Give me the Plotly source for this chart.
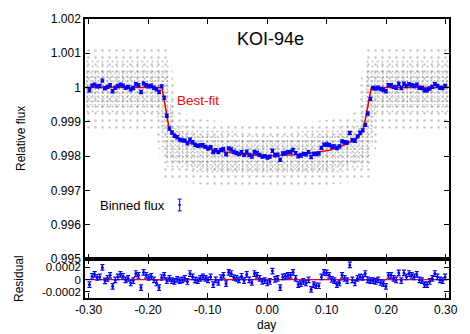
import plotly.graph_objects as go

# ---------------- data ----------------
# best-fit transit model
model_x = [-0.306, -0.1766, -0.1646, -0.149, -0.1225, -0.098, -0.07, -0.04, 0.0,
           0.04, 0.07, 0.105, 0.1316, 0.1534, 0.1616, 0.175, 0.3055]
model_flux = [1.0, 1.0, 0.99879, 0.99851, 0.99834, 0.99822, 0.99812, 0.99805, 0.99801,
              0.99803, 0.99808, 0.99817, 0.99834, 0.99855, 0.99876, 1.0, 1.0]

# binned points: first bin centre and spacing (days)
bin_x0 = -0.2985
bin_dx = 0.00433
# binned flux, deviation from 1 in units of 1e-4
binned_dev_1e4 = [
    -0.8, 0.55, 0.85, 0.35, 0.45, 2.0, -0.2, 0.2, 0.7, -1.1, -0.05, 0.45, 0.85, 0.55, -0.05,
    0.2, -0.55, -0.15, 1.0, 0.7, -1.3, 1.2, 0.7, 0.35, 0.55, -0.05, -0.55, -1.3, 0.35,
    -3.0, -8.22, -11.96, -13.11, -14.06, -14.51, -15.19, -15.44, -15.5, -16.26, -15.22,
    -15.99, -16.7, -17.02, -16.88, -16.85, -17.32, -17.78, -17.45, -18.87, -18.3, -18.87,
    -18.22, -18.0, -19.48, -17.76, -18.09, -18.83, -19.07, -19.4, -18.89, -19.67, -18.73,
    -19.7, -20.16, -18.78, -19.11, -19.64, -20.16, -20.03, -20.45, -20.18, -18.46, -19.78,
    -19.61, -21.07, -19.26, -19.09, -18.87, -18.81, -18.23, -19.14, -20.06, -19.82, -19.37,
    -19.49, -18.86, -20.28, -19.35, -19.4, -19.23, -17.61, -16.68, -16.61, -16.79, -17.22,
    -17.21, -17.64, -17.17, -15.71, -15.99, -16.08, -13.27, -15.4, -15.55, -14.26, -13.21,
    -12.51, -10.89, -7.57, -3.31,
    -0.15, -0.3, -0.05, -0.45, -0.65, -1.1, 0.7, 0.7, 0.2, -0.05, 1.1, -0.15, 1.1, 0.45,
    1.0, 0.7, 0.45, 0.85, -0.05, -0.15, -0.8, -0.8, -0.3, 0.2, 1.0, 0.45, -0.05, -0.15, 0.45,
]
# residuals, units of 1e-4
residual_1e4 = [
    -0.8, 0.55, 0.85, 0.35, 0.45, 2.0, -0.2, 0.2, 0.7, -1.1, -0.05, 0.45, 0.85, 0.55, -0.05,
    0.2, -0.55, -0.15, 1.0, 0.7, -1.3, 1.2, 0.7, 0.35, 0.55, -0.05, -0.55, -1.3, 0.35, 0.7,
    -0.15, 0.2, -0.15, -0.3, 0.05, -0.15, -0.05, 0.2, -0.3, 1.0, 0.45, -0.05, -0.15, 0.2, 0.45,
    0.2, -0.05, 0.45, -0.8, -0.05, -0.45, 0.35, 0.7, -0.65, 1.2, 1.0, 0.35, 0.2, -0.05, 0.55,
    -0.15, 0.85, -0.05, -0.45, 1.0, 0.7, 0.2, -0.3, -0.15, -0.55, -0.3, 1.4, 0.05, 0.2, -1.3,
    0.45, 0.55, 0.7, 0.7, 1.2, 0.2, -0.8, -0.65, -0.3, -0.55, -0.05, -1.6, -0.8, -1.0, -1.0,
    0.45, 1.2,
    1.1, 0.7, 0.05, -0.15, -0.8, -0.55, 0.7, 0.2, -0.15, 2.4, -0.05, -0.55, 0.2, 0.45, 0.35,
    1.0, -0.05, -0.15, -0.15, -0.3, -0.05, -0.45, -0.65, -1.1, 0.7, 0.7, 0.2, -0.05, 1.1,
    -0.15, 1.1, 0.45, 1.0, 0.7, 0.45, 0.85, -0.05, -0.15, -0.8, -0.8, -0.3, 0.2, 1.0, 0.45,
    -0.05, -0.15, 0.45,
]
error_1e4 = 0.45

# envelopes of the raw (unbinned) flux cloud: dense core, middle, sparse halo
core_up_x = [-0.306, -0.168, -0.158, -0.14, -0.1, -0.05, 0.0, 0.05, 0.1, 0.14, 0.158, 0.168, 0.3055]
core_up_y = [1.0005, 1.0005, 0.99885, 0.99872, 0.9986, 0.9985, 0.99847, 0.9985, 0.9986, 0.99872, 0.99885, 1.0005, 1.0005]
core_lo_x = [-0.306, -0.182, -0.17, -0.14, -0.1, -0.05, 0.0, 0.05, 0.1, 0.14, 0.17, 0.182, 0.3055]
core_lo_y = [0.99948, 0.99948, 0.9979, 0.99775, 0.9976, 0.99755, 0.99752, 0.99755, 0.9976, 0.99775, 0.9979, 0.99948, 0.99948]
mid_up_x = [-0.306, -0.166, -0.155, -0.1, 0.0, 0.1, 0.155, 0.166, 0.3055]
mid_up_y = [1.0008, 1.0008, 0.9990, 0.99878, 0.99865, 0.99878, 0.9990, 1.0008, 1.0008]
mid_lo_x = [-0.306, -0.185, -0.172, -0.1, 0.0, 0.1, 0.172, 0.185, 0.3055]
mid_lo_y = [0.9992, 0.9992, 0.9977, 0.99745, 0.9974, 0.99745, 0.9977, 0.9992, 0.9992]
halo_up_x = [-0.306, -0.164, -0.152, -0.1, 0.0, 0.1, 0.152, 0.164, 0.3055]
halo_up_y = [1.0012, 1.0012, 0.9993, 0.99905, 0.9989, 0.99905, 0.9993, 1.0012, 1.0012]
halo_lo_x = [-0.306, -0.188, -0.174, -0.1, 0.0, 0.1, 0.174, 0.188, 0.3055]
halo_lo_y = [0.9988, 0.9988, 0.9973, 0.99715, 0.9971, 0.99715, 0.9973, 0.9988, 0.9988]

x_tick_vals = [-0.3, -0.2, -0.1, 0.0, 0.1, 0.2, 0.3]
x_tick_text = ["-0.30", "-0.20", "-0.10", "0.00", "0.10", "0.20", "0.30"]
y_tick_vals = [0.995, 0.996, 0.997, 0.998, 0.999, 1.0, 1.001, 1.002]
y_tick_text = ["0.995", "0.996", "0.997", "0.998", "0.999", "1", "1.001", "1.002"]
r_tick_vals = [-0.0002, 0.0, 0.0002]
r_tick_text = ["-0.0002", "0", "0.0002"]

# ---------------- figure ----------------
FONT = "Liberation Sans, Arial, sans-serif"
BLUE = "#0000ff"
RED = "#ff0000"

binned_flux = [1 + v * 1e-4 for v in binned_dev_1e4]
residual = [v * 1e-4 for v in residual_1e4]

fig = go.Figure()

def cloud(xu, yu, xl, yl, size, sol, col):
    fig.add_trace(go.Scatter(
        x=xu + xl[::-1], y=yu + yl[::-1], fill="toself", mode="lines",
        line=dict(width=0), fillcolor="rgba(0,0,0,0)",
        fillpattern=dict(shape=".", size=size, solidity=sol, fgcolor=col,
                         bgcolor="rgba(0,0,0,0)"),
        hoverinfo="skip", showlegend=False, xaxis="x", yaxis="y"))

cloud(halo_up_x, halo_up_y, halo_lo_x, halo_lo_y, 7, 0.1, "rgba(60,60,60,0.6)")
cloud(mid_up_x, mid_up_y, mid_lo_x, mid_lo_y, 5, 0.12, "rgba(50,50,50,0.6)")
cloud(core_up_x, core_up_y, core_lo_x, core_lo_y, 4, 0.14, "rgba(30,30,30,0.6)")
cloud(core_up_x, core_up_y, core_lo_x, core_lo_y, 3, 0.12, "rgba(80,80,80,0.55)")

fig.add_trace(go.Scatter(x=model_x, y=model_flux, mode="lines",
                         line=dict(color=RED, width=1.6), showlegend=False,
                         xaxis="x", yaxis="y"))
fig.add_trace(go.Scatter(x0=bin_x0, dx=bin_dx, y=binned_flux, mode="markers",
                         marker=dict(color=BLUE, size=3.5),
                         error_y=dict(type="constant", value=error_1e4 * 1e-4,
                                      color=BLUE, thickness=1.3, width=2),
                         showlegend=False, xaxis="x", yaxis="y"))

fig.add_trace(go.Scatter(x=[model_x[0], model_x[-1]], y=[0, 0], mode="lines",
                         line=dict(color=RED, width=1.2), showlegend=False,
                         xaxis="x2", yaxis="y2"))
fig.add_trace(go.Scatter(x0=bin_x0, dx=bin_dx, y=residual, mode="markers",
                         marker=dict(color=BLUE, size=3),
                         error_y=dict(type="constant", value=error_1e4 * 1e-4,
                                      color=BLUE, thickness=1.2, width=2),
                         showlegend=False, xaxis="x2", yaxis="y2"))

W, H = 470, 334
L, R, T, B = 85, 12, 13, 36
split = (298 - 258) / (H - T - B)

axis_common = dict(showline=True, linecolor="black", linewidth=1.5, mirror="ticks",
                   ticks="inside", ticklen=5, tickwidth=1, tickcolor="black",
                   showgrid=False, zeroline=False,
                   tickfont=dict(family=FONT, size=12, color="black"))

fig.update_layout(
    width=W, height=H, margin=dict(l=L, r=R, t=T, b=B),
    paper_bgcolor="white", plot_bgcolor="white", showlegend=False,
    xaxis=dict(axis_common, domain=[0, 1], anchor="y", range=[-0.306, 0.3055],
               tickvals=x_tick_vals, showticklabels=False),
    yaxis=dict(axis_common, domain=[split, 1], anchor="x", range=[0.995, 1.002],
               tickvals=y_tick_vals, ticktext=y_tick_text),
    xaxis2=dict(axis_common, domain=[0, 1], anchor="y2", range=[-0.306, 0.3055],
                tickvals=x_tick_vals, ticktext=x_tick_text, matches="x"),
    yaxis2=dict(axis_common, domain=[0, split], anchor="x2", range=[-0.0003, 0.00034],
                tickvals=r_tick_vals, ticktext=r_tick_text,
                tickfont=dict(family=FONT, size=11.5, color="black")),
)

def px_x(px):
    return (px - L) / (W - L - R)

def px_y(py):
    return (H - B - py) / (H - T - B)

ann = [
    dict(text="KOI-94e", x=px_x(275), y=px_y(33), size=18, color="black"),
    dict(text="Best-fit", x=px_x(177), y=px_y(96), size=13.5, color=RED, xanchor="left"),
    dict(text="Binned flux", x=px_x(169), y=px_y(203), size=13, color="black", xanchor="right"),
    dict(text="Relative flux", x=px_x(20), y=px_y(135), size=12, color="black", textangle=-90),
    dict(text="Residual", x=px_x(18), y=px_y(278), size=12, color="black", textangle=-90),
    dict(text="day", x=px_x(271), y=px_y(326), size=12, color="black"),
]
for a in ann:
    fig.add_annotation(text=a["text"], x=a["x"], y=a["y"], xref="paper", yref="paper",
                       showarrow=False, xanchor=a.get("xanchor", "center"), yanchor="middle",
                       textangle=a.get("textangle", 0),
                       font=dict(family=FONT, size=a["size"], color=a["color"]))

# legend sample (error-bar glyph)
lx = px_x(182)
cap = 2 / (W - L - R)
y_top, y_bot, y_mid = px_y(197), px_y(209), px_y(203)
for (x0, y0, x1, y1) in [(lx, y_bot, lx, y_top), (lx - cap, y_top, lx + cap, y_top),
                         (lx - cap, y_bot, lx + cap, y_bot)]:
    fig.add_shape(type="line", xref="paper", yref="paper", x0=x0, y0=y0, x1=x1, y1=y1,
                  line=dict(color=BLUE, width=1))
fig.add_shape(type="circle", xref="paper", yref="paper",
              x0=lx - 1.3 / (W - L - R), x1=lx + 1.3 / (W - L - R),
              y0=y_mid - 1.3 / (H - T - B), y1=y_mid + 1.3 / (H - T - B),
              fillcolor=BLUE, line=dict(color=BLUE, width=0))

fig.write_html("out.html", config={"displayModeBar": False},
               post_script="document.body.style.margin='0px';document.body.style.padding='0px';")
